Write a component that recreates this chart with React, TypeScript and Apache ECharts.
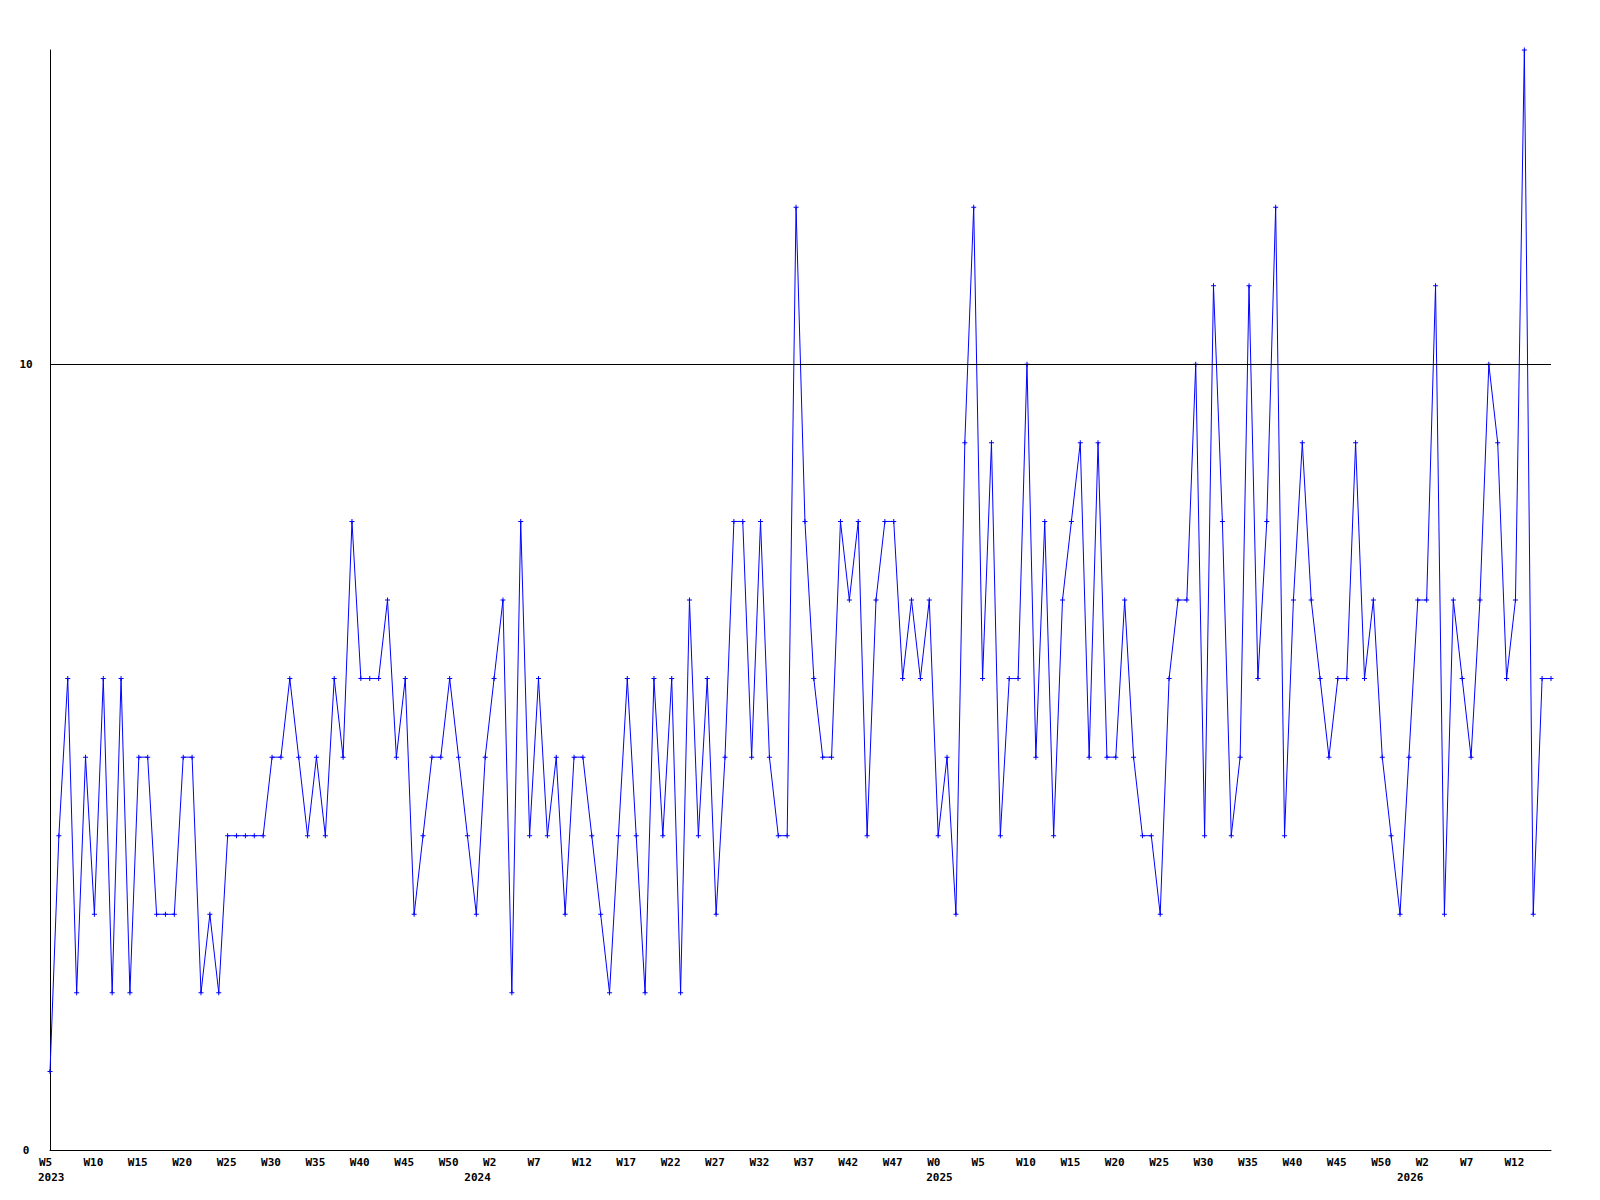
import React, { useEffect, useRef } from "react";
import * as echarts from "echarts";

// Weekly counts, one array per year (week numbers run firstWeek..lastWeek)
const YEARS = [2023, 2024, 2025, 2026];
const FIRST_WEEK = [5, 0, 0, 0];
const LAST_WEEK = [52, 51, 52, 16];

const counts2023 = [
  1, 4, 6, 2, 5, 3, 6, 2, 6, 2, 5, 5, 3, 3, 3, 5, 5, 2, 3, 2, 4, 4, 4, 4, 4, 5, 5, 6, 5, 4,
  5, 4, 6, 5, 8, 6, 6, 6, 7, 5, 6, 3, 4, 5, 5, 6, 5, 4,
];
const counts2024 = [
  3, 5, 6, 7, 2, 8, 4, 6, 4, 5, 3, 5, 5, 4, 3, 2, 4, 6, 4, 2, 6, 4, 6, 2, 7, 4, 6, 3, 5, 8,
  8, 5, 8, 5, 4, 4, 12, 8, 6, 5, 5, 8, 7, 8, 4, 7, 8, 8, 6, 7, 6, 7,
];
const counts2025 = [
  4, 5, 3, 9, 12, 6, 9, 4, 6, 6, 10, 5, 8, 4, 7, 8, 9, 5, 9, 5, 5, 7, 5, 4, 4, 3, 6, 7, 7, 10,
  4, 11, 8, 4, 5, 11, 6, 8, 12, 4, 7, 9, 7, 6, 5, 6, 6, 9, 6, 7, 5, 4, 3,
];
const counts2026 = [5, 7, 7, 11, 3, 7, 6, 5, 7, 10, 9, 6, 7, 14, 3, 6, 6];

const REF_LINE = 10;
const Y_MAX = 14;

const FONT = '"DejaVu Sans Mono", "Liberation Mono", monospace';

export default function App() {
  const ref = useRef<HTMLDivElement>(null);

  useEffect(() => {
    if (!ref.current) return;
    const chart = echarts.init(ref.current, undefined, { renderer: "svg" });

    const categories: string[] = [];
    const yearOfIdx: number[] = [];
    const weekOfIdx: number[] = [];
    const yearStart: number[] = [];
    YEARS.forEach((y, k) => {
      yearStart.push(categories.length);
      for (let w = FIRST_WEEK[k]; w <= LAST_WEEK[k]; w++) {
        categories.push(y + "-W" + w);
        yearOfIdx.push(y);
        weekOfIdx.push(w);
      }
    });
    const values = [...counts2023, ...counts2024, ...counts2025, ...counts2026];

    const labelStyle = {
      fontFamily: FONT,
      fontWeight: "bold" as const,
      fontSize: 11,
      color: "#000",
    };

    chart.setOption({
      animation: false,
      backgroundColor: "#fff",
      grid: { left: 50, right: 49, top: 50, bottom: 50, containLabel: false },
      xAxis: [
        {
          type: "category",
          data: categories,
          boundaryGap: false,
          axisLine: { show: true, lineStyle: { color: "#000", width: 1 } },
          axisTick: { show: false },
          splitLine: { show: false },
          axisLabel: {
            ...labelStyle,
            interval: 4,
            margin: 7,
            align: "left",
            padding: [0, 0, 0, -11],
            hideOverlap: false,
            formatter: (_v: string, idx: number) => "W" + weekOfIdx[idx],
          },
        },
        {
          type: "category",
          data: categories,
          position: "bottom",
          boundaryGap: false,
          axisLine: { show: false },
          axisTick: { show: false },
          splitLine: { show: false },
          axisLabel: {
            ...labelStyle,
            margin: 22,
            align: "left",
            padding: [0, 0, 0, -12],
            interval: (idx: number) => yearStart.includes(idx),
            formatter: (_v: string, idx: number) => String(yearOfIdx[idx]),
          },
        },
      ],
      yAxis: {
        type: "value",
        min: 0,
        max: Y_MAX,
        interval: 10,
        axisLine: { show: true, lineStyle: { color: "#000", width: 1 } },
        axisTick: { show: false },
        splitLine: { show: false },
        axisLabel: {
          ...labelStyle,
          margin: 24,
          align: "center",
          showMaxLabel: false,
          formatter: (v: number) => (v % 10 === 0 ? String(v) : ""),
        },
      },
      series: [
        {
          type: "line",
          data: values,
          xAxisIndex: 0,
          yAxisIndex: 0,
          symbol: "path://M0 2H2V0H3V2H5V3H3V5H2V3H0Z",
          symbolSize: 5,
          showSymbol: true,
          showAllSymbol: true,
          itemStyle: { color: "#0000ff" },
          lineStyle: { color: "#0000ff", width: 1 },
          emphasis: { disabled: true },
          markLine: {
            silent: true,
            symbol: "none",
            label: { show: false },
            lineStyle: { color: "#000", width: 1, type: "solid" },
            data: [{ yAxis: REF_LINE }],
          },
          z: 3,
        },
      ],
    });

    return () => chart.dispose();
  }, []);

  return (
    <div
      ref={ref}
      style={{ position: "absolute", left: 0, top: 0, width: 1600, height: 1200 }}
    />
  );
}
